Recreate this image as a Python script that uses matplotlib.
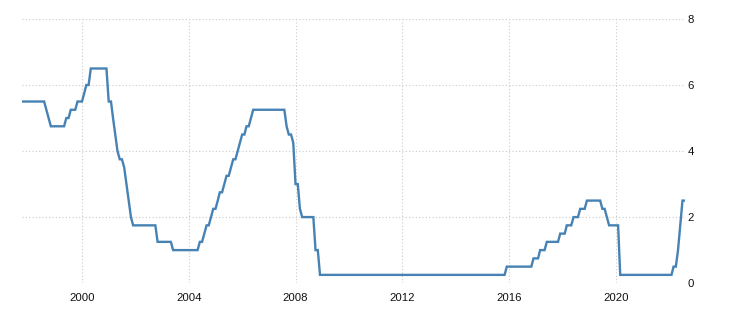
"""
Fed funds rate, monthly, Oct 1997 - Aug 2022.

Usage:  python plot.py
Output: out.png
"""

import pandas as pd
import matplotlib.pyplot as plt


# month-end target rate (%), one row per year
RATE_1997 = [5.5, 5.5, 5.5]  # Oct-Dec
RATE_1998 = [5.5, 5.5, 5.5, 5.5, 5.5, 5.5, 5.5, 5.5, 5.25, 5.0, 4.75, 4.75]
RATE_1999 = [4.75, 4.75, 4.75, 4.75, 4.75, 5.0, 5.0, 5.25, 5.25, 5.25, 5.5, 5.5]
RATE_2000 = [5.5, 5.75, 6.0, 6.0, 6.5, 6.5, 6.5, 6.5, 6.5, 6.5, 6.5, 6.5]
RATE_2001 = [5.5, 5.5, 5.0, 4.5, 4.0, 3.75, 3.75, 3.5, 3.0, 2.5, 2.0, 1.75]
RATE_2002 = [1.75, 1.75, 1.75, 1.75, 1.75, 1.75, 1.75, 1.75, 1.75, 1.75, 1.25, 1.25]
RATE_2003 = [1.25, 1.25, 1.25, 1.25, 1.25, 1.0, 1.0, 1.0, 1.0, 1.0, 1.0, 1.0]
RATE_2004 = [1.0, 1.0, 1.0, 1.0, 1.0, 1.25, 1.25, 1.5, 1.75, 1.75, 2.0, 2.25]
RATE_2005 = [2.25, 2.5, 2.75, 2.75, 3.0, 3.25, 3.25, 3.5, 3.75, 3.75, 4.0, 4.25]
RATE_2006 = [4.5, 4.5, 4.75, 4.75, 5.0, 5.25, 5.25, 5.25, 5.25, 5.25, 5.25, 5.25]
RATE_2007 = [5.25, 5.25, 5.25, 5.25, 5.25, 5.25, 5.25, 5.25, 4.75, 4.5, 4.5, 4.25]
RATE_2008 = [3.0, 3.0, 2.25, 2.0, 2.0, 2.0, 2.0, 2.0, 2.0, 1.0, 1.0, 0.25]
RATE_2009 = [0.25] * 12
RATE_2010 = [0.25] * 12
RATE_2011 = [0.25] * 12
RATE_2012 = [0.25] * 12
RATE_2013 = [0.25] * 12
RATE_2014 = [0.25] * 12
RATE_2015 = [0.25, 0.25, 0.25, 0.25, 0.25, 0.25, 0.25, 0.25, 0.25, 0.25, 0.25, 0.5]
RATE_2016 = [0.5, 0.5, 0.5, 0.5, 0.5, 0.5, 0.5, 0.5, 0.5, 0.5, 0.5, 0.75]
RATE_2017 = [0.75, 0.75, 1.0, 1.0, 1.0, 1.25, 1.25, 1.25, 1.25, 1.25, 1.25, 1.5]
RATE_2018 = [1.5, 1.5, 1.75, 1.75, 1.75, 2.0, 2.0, 2.0, 2.25, 2.25, 2.25, 2.5]
RATE_2019 = [2.5, 2.5, 2.5, 2.5, 2.5, 2.5, 2.25, 2.25, 2.0, 1.75, 1.75, 1.75]
RATE_2020 = [1.75, 1.75, 0.25, 0.25, 0.25, 0.25, 0.25, 0.25, 0.25, 0.25, 0.25, 0.25]
RATE_2021 = [0.25] * 12
RATE_2022 = [0.25, 0.25, 0.5, 0.5, 1.0, 1.75, 2.5, 2.5]  # Jan-Aug

YEAR_TICKS = [2000, 2004, 2008, 2012, 2016, 2020]
Y_TICKS = [0, 2, 4, 6, 8]

LINE_COLOR = "#4682b4"
GRID_COLOR = "#cacaca"


def build_series():
    values = (RATE_1997 + RATE_1998 + RATE_1999 + RATE_2000 + RATE_2001
              + RATE_2002 + RATE_2003 + RATE_2004 + RATE_2005 + RATE_2006
              + RATE_2007 + RATE_2008 + RATE_2009 + RATE_2010 + RATE_2011
              + RATE_2012 + RATE_2013 + RATE_2014 + RATE_2015 + RATE_2016
              + RATE_2017 + RATE_2018 + RATE_2019 + RATE_2020 + RATE_2021
              + RATE_2022)
    dates = pd.date_range("1997-10-01", periods=len(values), freq="MS")
    return pd.Series(values, index=dates)


def main():
    plt.rcParams["font.family"] = ["Liberation Sans", "DejaVu Sans"]
    s = build_series()

    fig = plt.figure(figsize=(7.3, 3.16), dpi=100, facecolor="white")
    ax = fig.add_axes([0.030, 0.104, 0.908, 0.836])

    ax.plot(s.index, s.values, color=LINE_COLOR, lw=1.7,
            solid_joinstyle="miter")

    ax.set_xlim(s.index[0], s.index[-1])
    ax.set_ylim(0, 8)

    ax.set_xticks([pd.Timestamp(f"{y}-01-01") for y in YEAR_TICKS])
    ax.set_xticklabels([str(y) for y in YEAR_TICKS])
    ax.set_yticks(Y_TICKS)
    ax.set_yticklabels([str(v) for v in Y_TICKS])

    ax.yaxis.tick_right()
    ax.tick_params(axis="both", length=0, labelsize=8.2, colors="#111111")
    ax.tick_params(axis="x", pad=7)
    ax.tick_params(axis="y", pad=2)

    ax.grid(True, color=GRID_COLOR, linestyle=(0, (1, 2)), linewidth=0.8)
    ax.set_axisbelow(True)
    for sp in ax.spines.values():
        sp.set_visible(False)

    fig.savefig("out.png", dpi=100, facecolor="white")
    plt.close(fig)


if __name__ == "__main__":
    main()
